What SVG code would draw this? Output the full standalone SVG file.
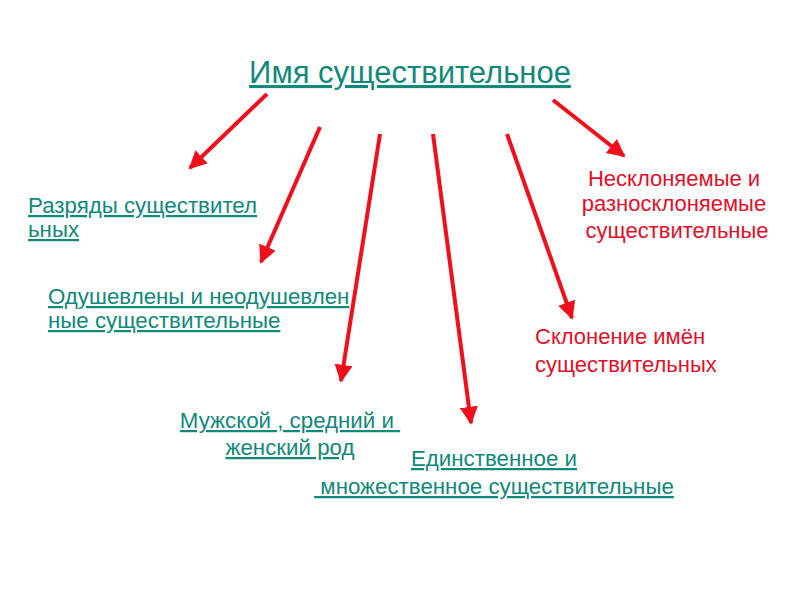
<svg xmlns="http://www.w3.org/2000/svg" width="800" height="600" viewBox="0 0 800 600">
<defs>
<marker id="ah" viewBox="0 0 10 10" refX="9" refY="5" markerWidth="4.5" markerHeight="4.5" markerUnits="strokeWidth" orient="auto">
<path d="M0,0 L10,5 L0,10 z" fill="#f0101c"/>
</marker>
<style>
text{font-family:"Liberation Sans",Arial,sans-serif;white-space:pre}
.t{fill:#12887a;text-decoration:underline;font-size:22.3px}
.r{fill:#e0102a;font-size:22px}
.c line{stroke:#f0101c;stroke-width:4;marker-end:url(#ah)}
</style>
</defs>
<rect width="800" height="600" fill="#ffffff"/>
<g id="title"><text class="t" x="410" y="83" text-anchor="middle" style="font-size:31px">Имя существительное</text></g>
<g class="c" id="connectors">
<line x1="267" y1="94" x2="190" y2="168"/>
<line x1="320" y1="127" x2="261" y2="262"/>
<line x1="380" y1="134" x2="341" y2="381"/>
<line x1="433" y1="134" x2="471" y2="423"/>
<line x1="507" y1="134" x2="572" y2="318"/>
<line x1="553" y1="100" x2="624" y2="156"/>
</g>
<g id="n1"><text class="t" x="28" y="213">Разряды существител</text><text class="t" x="28" y="237">ьных</text></g>
<g id="n2"><text class="t" x="48" y="304">Одушевлены и неодушевлен</text><text class="t" x="48" y="328">ные существительные</text></g>
<g id="n3"><text class="t" x="290" y="428" text-anchor="middle">Мужской , средний и </text><text class="t" x="290" y="455" text-anchor="middle">женский род</text></g>
<g id="n4"><text class="t" x="494" y="466" text-anchor="middle">Единственное и</text><text class="t" x="494" y="494" text-anchor="middle"> множественное существительные</text></g>
<g id="n5"><text class="r" x="674" y="186" text-anchor="middle">Несклоняемые и</text><text class="r" x="674" y="211" text-anchor="middle">разносклоняемые</text><text class="r" x="674" y="238" text-anchor="middle"> существительные</text></g>
<g id="n6"><text class="r" x="535" y="344">Склонение имён</text><text class="r" x="535" y="372">существительных</text></g>
</svg>
